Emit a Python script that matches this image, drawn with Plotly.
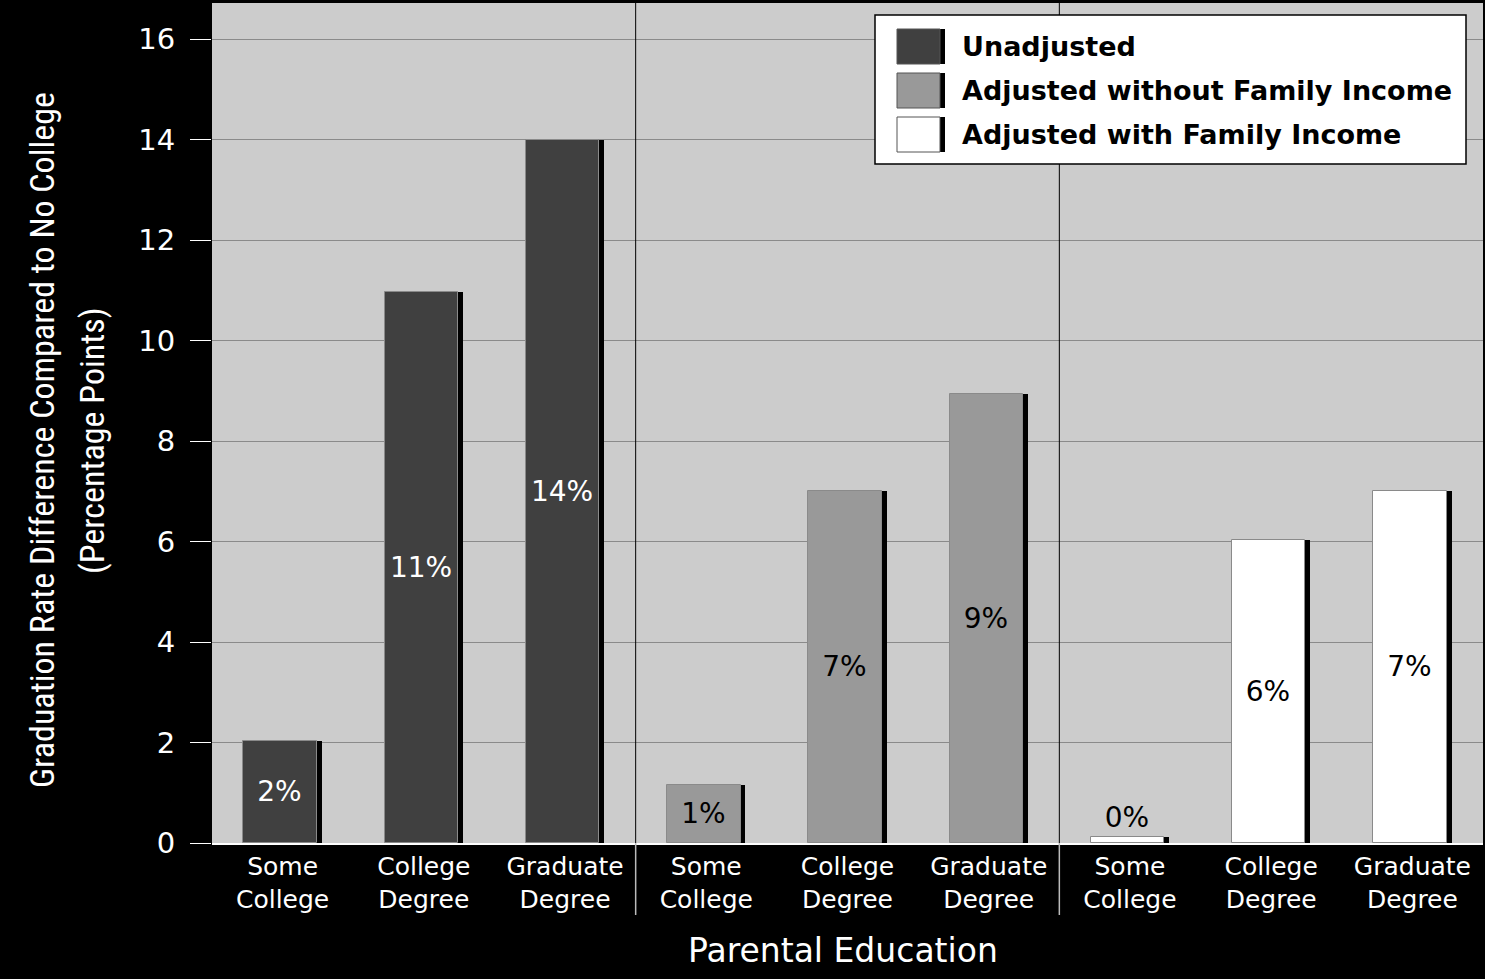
import plotly.graph_objects as go

# ---------------- data ----------------
categories = ["Some College", "College Degree", "Graduate Degree"]
series_names = ["Unadjusted", "Adjusted without Family Income", "Adjusted with Family Income"]
unadjusted = [2.03, 10.96, 13.99]
adjusted_without_income = [1.15, 7.0, 8.94]
adjusted_with_income = [0.12, 6.03, 7.0]
unadjusted_labels = ["2%", "11%", "14%"]
adjusted_without_labels = ["1%", "7%", "9%"]
adjusted_with_labels = ["0%", "6%", "7%"]
y_ticks = [0, 2, 4, 6, 8, 10, 12, 14, 16]
y_title_lines = ["Graduation Rate Difference Compared to No College", "(Percentage Points)"]
x_title = "Parental Education"

series_values = [unadjusted, adjusted_without_income, adjusted_with_income]
series_labels = [unadjusted_labels, adjusted_without_labels, adjusted_with_labels]

# ---------------- style ----------------
colors = ["#404040", "#999999", "#ffffff"]
text_colors = ["#ffffff", "#000000", "#000000"]
W, H = 1485, 979
L, R, T, B = 212, 2, 3, 136
PW, PH = W - L - R, H - T - B

def px_x(p):
    return (p - L) / PW

def px_y(p):
    return (H - B - p) / PH

ncat = len(categories)
fig = go.Figure()
total_w = 0.555
fill_w = 0.52
for si, (name, vals, labs) in enumerate(zip(series_names, series_values, series_labels)):
    xs = [si * ncat + i for i in range(ncat)]
    # black right-edge shadow
    fig.add_trace(go.Bar(
        x=xs, y=vals, width=[total_w] * ncat, offset=-total_w / 2,
        marker=dict(color="#000000", line=dict(width=0)),
        hoverinfo="skip", showlegend=False,
    ))
    positions = ["outside" if v < 0.5 else "inside" for v in vals]
    fig.add_trace(go.Bar(
        x=xs, y=vals, width=[fill_w] * ncat, offset=-total_w / 2,
        name=name,
        marker=dict(color=colors[si], line=dict(width=1, color="#8a8a8a")),
        text=labs, textposition=positions, insidetextanchor="middle",
        textangle=0, constraintext="none", cliponaxis=False,
        textfont=dict(family="DejaVu Sans", size=28, color=text_colors[si]),
        outsidetextfont=dict(family="DejaVu Sans", size=28, color="#000000"),
        showlegend=False,
    ))

tickvals = list(range(ncat * len(series_names)))
ticktext = [c.replace(" ", "<br>") for c in categories] * len(series_names)

shapes = []
# group separators
for g in range(1, len(series_names)):
    xsep = g * ncat - 0.5
    shapes.append(dict(type="line", xref="x", yref="paper", x0=xsep, x1=xsep, y0=0, y1=1,
                       line=dict(color="#000000", width=1)))
    shapes.append(dict(type="line", xref="x", yref="paper", x0=xsep, x1=xsep, y0=0, y1=px_y(915),
                       line=dict(color="#bbbbbb", width=1.5)))

# custom legend
shapes.append(dict(type="rect", xref="paper", yref="paper",
                   x0=px_x(875), x1=px_x(1466), y0=px_y(164), y1=px_y(15),
                   fillcolor="#ffffff", line=dict(color="#000000", width=1.5), layer="above"))
annotations = []
row_tops = [29, 73, 117]
for si, name in enumerate(series_names):
    top = row_tops[si]
    bot = top + 35
    shapes.append(dict(type="rect", xref="paper", yref="paper",
                       x0=px_x(897), x1=px_x(945), y0=px_y(bot), y1=px_y(top),
                       fillcolor="#000000", line=dict(width=0), layer="above"))
    shapes.append(dict(type="rect", xref="paper", yref="paper",
                       x0=px_x(897), x1=px_x(940), y0=px_y(bot), y1=px_y(top),
                       fillcolor=colors[si], line=dict(width=1, color="#555555"), layer="above"))
    annotations.append(dict(xref="paper", yref="paper", x=px_x(960), y=px_y((top + bot) / 2),
                            text=name, showarrow=False, xanchor="left", yanchor="middle",
                            font=dict(family="DejaVu Sans", size=27, color="#000000", weight="bold")))

for line_text, xc in zip(y_title_lines, [42, 92]):
    annotations.append(dict(xref="paper", yref="paper", x=px_x(xc), y=px_y(440),
                            text=line_text, textangle=-90, showarrow=False,
                            xanchor="center", yanchor="middle",
                            font=dict(family="Roboto Condensed", size=34, color="#ffffff")))
annotations.append(dict(xref="paper", yref="paper", x=px_x(843), y=px_y(950),
                        text=x_title, showarrow=False, xanchor="center", yanchor="middle",
                        font=dict(family="DejaVu Sans", size=33, color="#ffffff")))

fig.update_layout(
    width=W, height=H,
    margin=dict(l=L, r=R, t=T, b=B, pad=0),
    paper_bgcolor="#000000", plot_bgcolor="#cccccc",
    barmode="overlay", bargap=0,
    shapes=shapes, annotations=annotations,
    showlegend=False,
    xaxis=dict(range=[-0.5, ncat * len(series_names) - 0.5], tickvals=tickvals, ticktext=ticktext,
               showgrid=False, zeroline=False, showline=True, linecolor="#ffffff", linewidth=2,
               ticks="", tickfont=dict(family="DejaVu Sans", size=25, color="#ffffff"),
               fixedrange=True),
    yaxis=dict(range=[0, 16.72], tickvals=y_ticks, showgrid=True, gridcolor="#8a8a8a", gridwidth=1,
               zeroline=False, showline=False, ticks="outside", ticklen=21, tickcolor="#ffffff",
               tickwidth=1, ticklabelstandoff=9,
               tickfont=dict(family="DejaVu Sans", size=29, color="#ffffff")),
)

post = """
document.body.style.margin = '0';
document.body.style.background = '#000';
"""

fig.write_html("out.html", post_script=post, config={"displayModeBar": False})
